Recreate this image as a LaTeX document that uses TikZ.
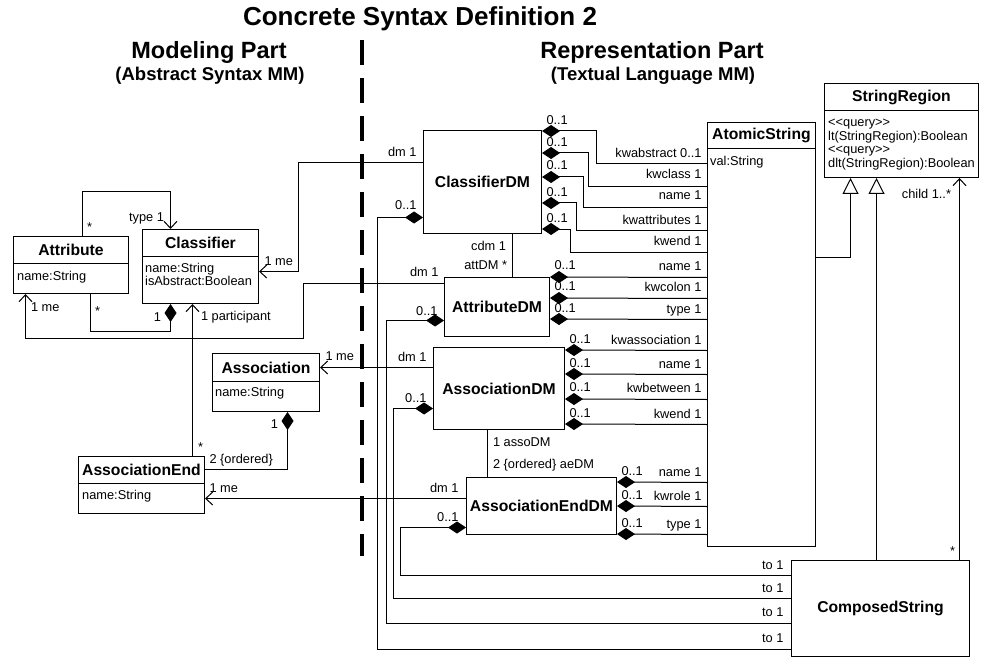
\documentclass[tikz,border=0pt]{standalone}
\usepackage{fontspec}
\setmainfont{Liberation Sans}
\usetikzlibrary{arrows.meta}

\begin{document}
\begin{tikzpicture}[x=1pt,y=-1pt,
 maintitle/.style={font=\bfseries\fontsize{26}{30}\selectfont},
 head/.style={font=\bfseries\fontsize{23.5}{26}\selectfont},
 subhead/.style={font=\bfseries\fontsize{18.5}{22}\selectfont},
 box/.style={draw,line width=1pt,anchor=north west,inner sep=0pt},
 cname/.style={draw,line width=1pt,anchor=north,inner sep=0pt,font=\bfseries\fontsize{15.7}{18}\selectfont},
 dmname/.style={font=\bfseries\fontsize{15.7}{18}\selectfont},
 attrs/.style={anchor=base west,inner sep=0pt,align=left,font=\fontsize{12.8}{13.5}\selectfont},
 lbl/.style={inner sep=0pt,font=\fontsize{12.8}{14}\selectfont},
 link/.style={line width=1pt},
 me/.style={arrows={-Straight Barb[length=7pt,width=13pt]}},
 own/.style={arrows={Diamond[length=18pt,width=12pt]-}},
 isa/.style={arrows={-Triangle[open,length=16pt,width=16pt,fill=white]}}]
 \useasboundingbox (0,0) rectangle (981,660);

 % headings
 \node[maintitle] (title) at (420,19) {Concrete Syntax Definition 2};
 \node[head] (mpart) at (209,52) {Modeling Part};
 \node[subhead] (msub) at (210,76) {(Abstract Syntax MM)};
 \node[head] (rpart) at (652,52) {Representation Part};
 \node[subhead] (rsub) at (653,76) {(Textual Language MM)};
 \draw[line width=4pt,dash pattern=on 25pt off 13pt] (362,40) -- (362,556);

 % modeling part
 \node[box,minimum width=115pt,minimum height=57pt] (attr) at (13,236) {};
 \node[cname,minimum width=115pt,minimum height=27pt] (attrT) at (attr.north) {Attribute};
 \node[attrs] (attrA) at ([xshift=4pt,yshift=-16.5pt]attrT.south west) {name:String};

 \node[box,minimum width=116pt,minimum height=74pt] (cls) at (142,229) {};
 \node[cname,minimum width=116pt,minimum height=27pt] (clsT) at (cls.north) {Classifier};
 \node[attrs] (clsA) at ([xshift=3pt,yshift=-28.5pt]clsT.south west) {name:String\\isAbstract:Boolean};

 \node[box,minimum width=107pt,minimum height=58pt] (asc) at (212,353) {};
 \node[cname,minimum width=107pt,minimum height=28pt] (ascT) at (asc.north) {Association};
 \node[attrs] (ascA) at ([xshift=3pt,yshift=-14.5pt]ascT.south west) {name:String};

 \node[box,minimum width=126pt,minimum height=57pt] (aend) at (78,456) {};
 \node[cname,minimum width=126pt,minimum height=27pt] (aendT) at (aend.north) {AssociationEnd};
 \node[attrs] (aendA) at ([xshift=4pt,yshift=-15.5pt]aendT.south west) {name:String};

 % representation part
 \node[box,dmname,minimum width=118pt,minimum height=103pt] (cdm) at (423,130) {ClassifierDM};
 \node[box,dmname,minimum width=105pt,minimum height=59pt] (adm) at (444,277) {AttributeDM};
 \node[box,dmname,minimum width=131pt,minimum height=82pt] (asdm) at (433,347) {AssociationDM};
 \node[box,dmname,minimum width=150pt,minimum height=57pt] (aedm) at (466,477) {AssociationEndDM};
 \node[box,dmname,minimum width=178pt,minimum height=96pt] (comp) at (791,560) {ComposedString};

 \node[box,minimum width=108pt,minimum height=424pt] (atom) at (707,122) {};
 \node[cname,minimum width=108pt,minimum height=26pt] (atomT) at (atom.north) {AtomicString};
 \node[attrs] (atomA) at ([xshift=3pt,yshift=-16.5pt]atomT.south west) {val:String};

 \node[box,minimum width=154pt,minimum height=94pt] (sreg) at (824,83) {};
 \node[cname,minimum width=154pt,minimum height=27pt] (sregT) at (sreg.north) {StringRegion};
 \node[attrs] (sregA) at ([xshift=4pt,yshift=-56.5pt]sregT.south west) {\textless\kern0pt\textless query\textgreater\kern0pt\textgreater\\lt(StringRegion):Boolean\\\textless\kern0pt\textless query\textgreater\kern0pt\textgreater\\dlt(StringRegion):Boolean};

 % modeling part links
 \draw[link,me] ([xshift=11.5pt]attr.north) node[lbl,anchor=base west,xshift=4pt,yshift=5pt]{*} -- ++(0,-44) -| ([xshift=-30pt]cls.north) node[lbl,anchor=base east,xshift=-6pt,yshift=7.5pt]{type 1};
 \draw[link,own] ([xshift=-30pt]cls.south) node[lbl,anchor=base east,xshift=-9pt,yshift=-17.5pt]{1} -- ++(0,27) -| ([xshift=19.5pt]attr.south) node[lbl,anchor=base west,xshift=4pt,yshift=-21pt]{*};
 \draw[link,me] ([xshift=51pt]aend.north) node[lbl,anchor=base west,xshift=5pt,yshift=5pt]{*} -- ([xshift=-8pt]cls.south) node[lbl,anchor=base west,xshift=8pt,yshift=-16.5pt]{1 participant};
 \draw[link,own] ([xshift=21.5pt]asc.south) node[lbl,anchor=base east,xshift=-9pt,yshift=-16.5pt]{1} |- ([yshift=15.5pt]aend.east) node[lbl,anchor=base west,xshift=4pt,yshift=6.5pt]{2 \{ordered\}};

 % dm to model
 \draw[link,me] ([yshift=19.5pt]cdm.west) node[lbl,anchor=base east,xshift=-6pt,yshift=5.5pt]{dm 1} -- ++(-125,0) |- ([yshift=-5pt]cls.east) node[lbl,anchor=base west,xshift=5pt,yshift=6.5pt]{1 me};
 \draw[link,me] ([yshift=23.5pt]adm.west) node[lbl,anchor=base east,xshift=-5pt,yshift=7.5pt]{dm 1} -- ++(-141,0) -- ++(0,55) -| ([xshift=-45.5pt]attr.south) node[lbl,anchor=base west,xshift=5pt,yshift=-17.5pt]{1 me};
 \draw[link,me] ([yshift=21pt]asdm.west) node[lbl,anchor=base east,xshift=-6pt,yshift=6.5pt]{dm 1} -- ([yshift=15pt]asc.east) node[lbl,anchor=base west,xshift=5pt,yshift=7.5pt]{1 me};
 \draw[link,me] ([yshift=7.5pt]aedm.west) node[lbl,anchor=base east,xshift=-7pt,yshift=6.5pt]{dm 1} -- ([yshift=-13.5pt]aend.east) node[lbl,anchor=base west,xshift=4pt,yshift=6.5pt]{1 me};

 % dm to dm
 \draw[link] ([xshift=30pt]cdm.south) node[lbl,anchor=base east,xshift=-6pt,yshift=-16.5pt]{cdm 1} -- ([xshift=15.5pt]adm.north) node[lbl,anchor=base east,xshift=-5pt,yshift=7.5pt]{attDM *};
 \draw[link] ([xshift=-11.5pt]asdm.south) node[lbl,anchor=base west,xshift=5pt,yshift=-16.5pt]{1 assoDM} -- ([xshift=-54pt]aedm.north) node[lbl,anchor=base west,xshift=5pt,yshift=8.5pt]{2 \{ordered\} aeDM};

 % ClassifierDM to AtomicString
 \draw[link,own] ([yshift=-1pt]cdm.north east) node[lbl,anchor=base west,xshift=4pt,yshift=6.5pt]{0..1} -- ++(54,0) |- ([yshift=171pt]atom.west) node[lbl,anchor=base east,xshift=-5pt,yshift=5.5pt]{kwabstract 0..1};
 \draw[link,own] ([yshift=-23pt]cdm.north east) node[lbl,anchor=base west,xshift=4pt,yshift=6.5pt]{0..1} -- ++(46,0) |- ([yshift=148pt]atom.west) node[lbl,anchor=base east,xshift=-5pt,yshift=7.5pt]{kwclass 1};
 \draw[link,own] ([yshift=-47pt]cdm.north east) node[lbl,anchor=base west,xshift=4pt,yshift=7.5pt]{0..1} -- ++(41,0) |- ([yshift=127pt]atom.west) node[lbl,anchor=base east,xshift=-5pt,yshift=7.5pt]{name 1};
 \draw[link,own] ([yshift=-73pt]cdm.north east) node[lbl,anchor=base west,xshift=4pt,yshift=6.5pt]{0..1} -- ++(34,0) |- ([yshift=104pt]atom.west) node[lbl,anchor=base east,xshift=-5pt,yshift=6.5pt]{kwattributes 1};
 \draw[link,own] ([yshift=-99pt]cdm.north east) node[lbl,anchor=base west,xshift=4pt,yshift=6.5pt]{0..1} -- ++(28,0) |- ([yshift=82pt]atom.west) node[lbl,anchor=base east,xshift=-5pt,yshift=7.5pt]{kwend 1};

 % AttributeDM to AtomicString
 \draw[link,own] (adm.north east) node[lbl,anchor=base west,xshift=4pt,yshift=7.5pt]{0..1} -- ([yshift=57pt]atom.west) node[lbl,anchor=base east,xshift=-5pt,yshift=7.5pt]{name 1};
 \draw[link,own] ([yshift=-21pt]adm.north east) node[lbl,anchor=base west,xshift=4pt,yshift=7.5pt]{0..1} -- ([yshift=36pt]atom.west) node[lbl,anchor=base east,xshift=-5pt,yshift=7.5pt]{kwcolon 1};
 \draw[link,own] ([yshift=-42pt]adm.north east) node[lbl,anchor=base west,xshift=4pt,yshift=6.5pt]{0..1} -- ([yshift=15pt]atom.west) node[lbl,anchor=base east,xshift=-5pt,yshift=6.5pt]{type 1};

 % AssociationDM to AtomicString
 \draw[link,own] ([yshift=-3pt]asdm.north east) node[lbl,anchor=base west,xshift=4pt,yshift=6.5pt]{0..1} -- ([yshift=-16pt]atom.west) node[lbl,anchor=base east,xshift=-5pt,yshift=6.5pt]{kwassociation 1};
 \draw[link,own] ([yshift=-27pt]asdm.north east) node[lbl,anchor=base west,xshift=4pt,yshift=6.5pt]{0..1} -- ([yshift=-40pt]atom.west) node[lbl,anchor=base east,xshift=-5pt,yshift=6.5pt]{name 1};
 \draw[link,own] ([yshift=-52pt]asdm.north east) node[lbl,anchor=base west,xshift=4pt,yshift=7.5pt]{0..1} -- ([yshift=-65pt]atom.west) node[lbl,anchor=base east,xshift=-5pt,yshift=7.5pt]{kwbetween 1};
 \draw[link,own] ([yshift=-77pt]asdm.north east) node[lbl,anchor=base west,xshift=4pt,yshift=6.5pt]{0..1} -- ([yshift=-90pt]atom.west) node[lbl,anchor=base east,xshift=-5pt,yshift=6.5pt]{kwend 1};

 % AssociationEndDM to AtomicString
 \draw[link,own] ([yshift=-5pt]aedm.north east) node[lbl,anchor=base west,xshift=4pt,yshift=6.5pt]{0..1} -- ([yshift=-148pt]atom.west) node[lbl,anchor=base east,xshift=-5pt,yshift=6.5pt]{name 1};
 \draw[link,own] ([yshift=-29pt]aedm.north east) node[lbl,anchor=base west,xshift=4pt,yshift=6.5pt]{0..1} -- ([yshift=-172pt]atom.west) node[lbl,anchor=base east,xshift=-5pt,yshift=6.5pt]{kwrole 1};
 \draw[link,own] ([yshift=-57pt]aedm.north east) node[lbl,anchor=base west,xshift=4pt,yshift=6.5pt]{0..1} -- ([yshift=-200pt]atom.west) node[lbl,anchor=base east,xshift=-5pt,yshift=6.5pt]{type 1};

 % DMs to ComposedString
 \draw[link,own] ([yshift=-21.5pt]aedm.west) node[lbl,anchor=base east,xshift=-7pt,yshift=6.5pt]{0..1} -- ++(-66,0) |- ([yshift=-15pt]comp.north west) node[lbl,anchor=base east,xshift=-7pt,yshift=5.5pt]{to 1};
 \draw[link,own] ([yshift=-20pt]asdm.west) node[lbl,anchor=base east,xshift=-6pt,yshift=6.5pt]{0..1} -- ++(-40,0) |- ([yshift=-38pt]comp.north west) node[lbl,anchor=base east,xshift=-7pt,yshift=5.5pt]{to 1};
 \draw[link,own] ([yshift=-13.5pt]adm.west) node[lbl,anchor=base east,xshift=-6pt,yshift=5.5pt]{0..1} -- ++(-58,0) |- ([yshift=-63pt]comp.north west) node[lbl,anchor=base east,xshift=-7pt,yshift=6.5pt]{to 1};
 \draw[link,own] ([yshift=-35.5pt]cdm.west) node[lbl,anchor=base east,xshift=-6pt,yshift=7.5pt]{0..1} -- ++(-46,0) |- ([yshift=-89pt]comp.north west) node[lbl,anchor=base east,xshift=-7pt,yshift=6.5pt]{to 1};

 % string regions
 \draw[link,isa] ([yshift=77pt]atom.east) -| ([xshift=-51pt]sreg.south);
 \draw[link,isa] ([xshift=-4pt]comp.north) -- ([xshift=-25pt]sreg.south);
 \draw[link,me] ([xshift=79pt]comp.north) node[lbl,anchor=base east,xshift=-4pt,yshift=5pt]{*} -- ([xshift=58pt]sreg.south) node[lbl,anchor=base east,xshift=-8pt,yshift=-20.5pt]{child 1..*};
\end{tikzpicture}
\end{document}
